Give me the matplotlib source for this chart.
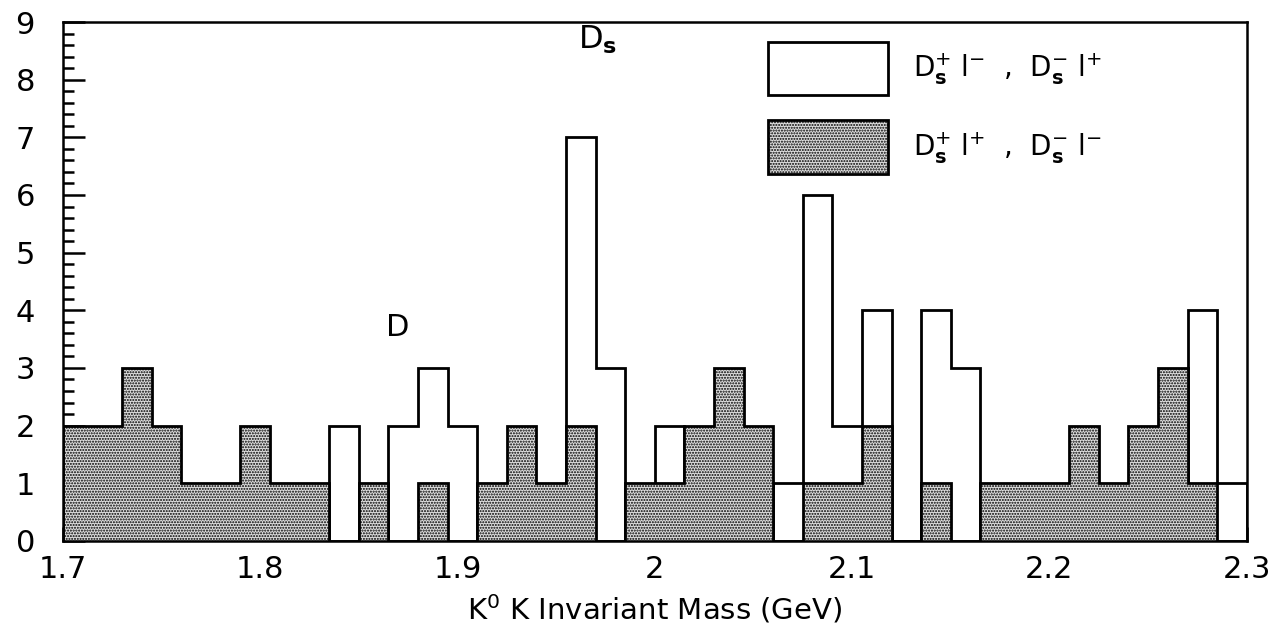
"""
K0 K invariant mass: right-sign vs wrong-sign D_s-lepton pairs.
"""
import numpy as np
import matplotlib
matplotlib.use("Agg")
import matplotlib.pyplot as plt
from matplotlib.patches import Patch
from matplotlib.ticker import MultipleLocator

# ── Data ──────────────────────────────────────────────────────────────────────
MASS_LO = 1.7
BIN_WIDTH = 0.015
N_BINS = 40

# D_s+ l- , D_s- l+   (open histogram, 0 where hidden under the shaded one)
right_sign = [0, 0, 0, 0, 0, 0, 0, 0, 0, 2,
              0, 2, 3, 2, 0, 0, 0, 7, 3, 0,
              2, 0, 0, 0, 1, 6, 2, 4, 0, 4,
              3, 0, 0, 0, 0, 0, 0, 0, 4, 1]

# D_s+ l+ , D_s- l-   (shaded histogram)
wrong_sign = [2, 2, 3, 2, 1, 1, 2, 1, 1, 0,
              1, 0, 1, 0, 1, 2, 1, 2, 0, 1,
              1, 2, 3, 2, 0, 1, 1, 2, 0, 1,
              0, 1, 1, 1, 2, 1, 2, 3, 1, 0]

x_ticks = [1.7, 1.8, 1.9, 2.0, 2.1, 2.2, 2.3]
x_ticklabels = ["1.7", "1.8", "1.9", "2", "2.1", "2.2", "2.3"]
y_ticks = list(range(0, 10))

label_open = r"D$_{\mathbf{s}}^{+}$ l$^{-}$  ,  D$_{\mathbf{s}}^{-}$ l$^{+}$"
label_shaded = r"D$_{\mathbf{s}}^{+}$ l$^{+}$  ,  D$_{\mathbf{s}}^{-}$ l$^{-}$"

SHADE = "#dedede"
plt.rcParams["hatch.linewidth"] = 1.0
plt.rcParams["mathtext.fontset"] = "dejavusans"

edges = MASS_LO + BIN_WIDTH * np.arange(N_BINS + 1)

fig = plt.figure(figsize=(12.8, 6.29), dpi=100)
ax = fig.add_axes([0.049, 0.140, 0.925, 0.825])

ax.stairs(right_sign, edges, fill=True, facecolor="white",
          edgecolor="black", lw=2.0, zorder=2)
ax.stairs(wrong_sign, edges, fill=True, facecolor=SHADE,
          edgecolor="black", hatch="......", lw=2.0, zorder=3)

ax.set_xlim(edges[0], edges[-1])
ax.set_ylim(0, 9)
ax.set_xticks(x_ticks)
ax.set_xticklabels(x_ticklabels)
ax.set_yticks(y_ticks)
ax.xaxis.set_minor_locator(MultipleLocator(0.02))
ax.yaxis.set_minor_locator(MultipleLocator(0.2))
ax.tick_params(axis="both", which="both", direction="in", width=1.8,
               labelsize=22, top=False, right=False)
ax.tick_params(axis="y", which="major", length=16, pad=20)
ax.tick_params(axis="y", which="minor", length=8)
ax.tick_params(axis="x", which="major", length=10, pad=10)
ax.tick_params(axis="x", which="minor", length=8)
for sp in ax.spines.values():
    sp.set_linewidth(1.8)
    sp.set_zorder(5)

ax.set_xlabel(r"K$^{0}$ K Invariant Mass (GeV)", fontsize=21, labelpad=6)

ax.text(1.961, 8.97, r"D$_{\mathbf{s}}$", fontsize=23, va="top")
ax.text(1.864, 3.95, "D", fontsize=22, va="top")

handles = [
    Patch(facecolor="white", edgecolor="black", lw=2.0, label=label_open),
    Patch(facecolor=SHADE, edgecolor="black", hatch="......", lw=2.0,
          label=label_shaded),
]
ax.legend(handles=handles, loc="upper left", bbox_to_anchor=(0.596, 0.962),
          frameon=False, fontsize=20, handlelength=4.3, handleheight=2.6,
          labelspacing=0.9, handletextpad=0.9, borderpad=0, borderaxespad=0)

plt.savefig("out.png", dpi=100)
